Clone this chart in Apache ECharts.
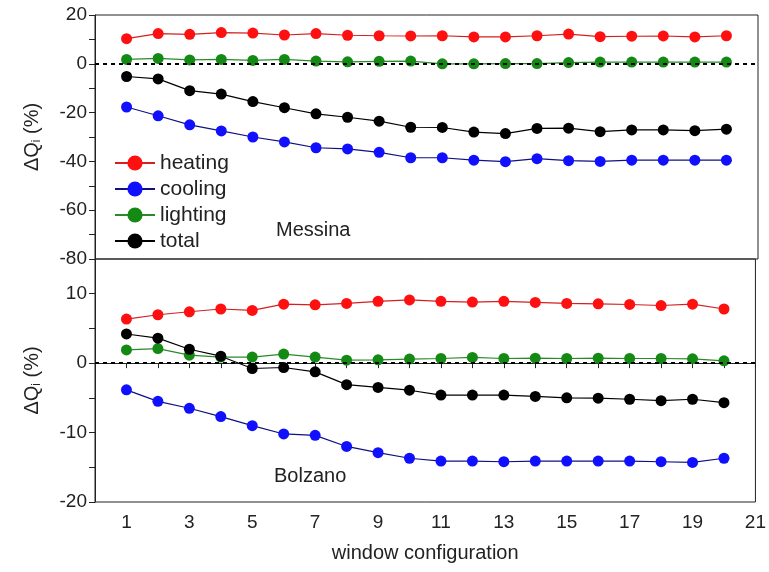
<!DOCTYPE html>
<html>
<head>
<meta charset="utf-8">
<script src="https://cdn.jsdelivr.net/npm/echarts@6/dist/echarts.min.js"></script>
<style>
  html, body { margin: 0; padding: 0; background: #fff; }
  #chart { width: 769px; height: 572px; }
</style>
</head>
<body>
<div id="chart"></div>
<script>
// window configurations 1..20
var configs = [1, 2, 3, 4, 5, 6, 7, 8, 9, 10, 11, 12, 13, 14, 15, 16, 17, 18, 19, 20];

// Messina (top panel)
var messinaHeating = [10.3, 12.4, 12.1, 12.8, 12.6, 11.8, 12.4, 11.7, 11.5, 11.4, 11.5, 11.0, 11.0, 11.5, 12.2, 11.1, 11.3, 11.4, 11.0, 11.5];
var messinaCooling = [-17.7, -21.3, -25.0, -27.5, -30.0, -32.0, -34.4, -34.9, -36.3, -38.5, -38.5, -39.5, -40.1, -38.9, -39.7, -40.0, -39.5, -39.5, -39.5, -39.5];
var messinaLighting = [1.8, 2.2, 1.6, 1.8, 1.4, 1.8, 1.1, 0.8, 1.0, 1.1, 0.0, 0.0, 0.1, 0.1, 0.5, 0.7, 0.7, 0.7, 0.7, 0.7];
var messinaTotal = [-5.2, -6.2, -11.0, -12.4, -15.5, -18.0, -20.5, -21.9, -23.5, -26.0, -26.1, -28.0, -28.6, -26.5, -26.4, -27.8, -27.1, -27.1, -27.4, -26.8];

// Bolzano (bottom panel)
var bolzanoHeating = [6.35, 6.97, 7.4, 7.8, 7.6, 8.5, 8.4, 8.6, 8.9, 9.1, 8.9, 8.8, 8.9, 8.75, 8.6, 8.55, 8.45, 8.3, 8.5, 7.8];
var bolzanoCooling = [-3.85, -5.5, -6.5, -7.7, -9.0, -10.2, -10.4, -12.0, -12.9, -13.7, -14.1, -14.1, -14.2, -14.1, -14.1, -14.1, -14.1, -14.2, -14.3, -13.7];
var bolzanoLighting = [1.9, 2.1, 1.15, 0.87, 0.87, 1.3, 0.87, 0.43, 0.48, 0.58, 0.67, 0.82, 0.67, 0.72, 0.67, 0.72, 0.67, 0.67, 0.62, 0.34];
var bolzanoTotal = [4.2, 3.6, 2.0, 1.0, -0.77, -0.63, -1.25, -3.1, -3.5, -3.9, -4.6, -4.6, -4.6, -4.8, -5.0, -5.05, -5.2, -5.4, -5.2, -5.7];

var names = ['heating', 'cooling', 'lighting', 'total'];
var markerColors = ['#ff1010', '#1010ff', '#148a14', '#000000'];
var lineColors = ['#d42020', '#101080', '#2a8a2a', '#000000'];

var font = 'Liberation Sans, Arial, sans-serif';

function pairs(ys) {
    return configs.map(function (x, i) { return [x, ys[i]]; });
}

function makeSeries(idx, ys, axisIdx) {
    return {
        name: names[idx],
        type: 'line',
        xAxisIndex: axisIdx,
        yAxisIndex: axisIdx,
        data: pairs(ys),
        symbol: 'circle',
        symbolSize: 11,
        itemStyle: { color: markerColors[idx] },
        lineStyle: { color: lineColors[idx], width: 1.2 },
        z: 3
    };
}

var zeroLine = function () {
    return {
        silent: true,
        symbol: 'none',
        label: { show: false },
        lineStyle: { color: '#000', type: [4, 4], width: 2 },
        data: [{ yAxis: 0 }]
    };
};

var chart = echarts.init(document.getElementById('chart'));

var series = [
    makeSeries(0, messinaHeating, 0),
    makeSeries(1, messinaCooling, 0),
    makeSeries(2, messinaLighting, 0),
    makeSeries(3, messinaTotal, 0),
    makeSeries(0, bolzanoHeating, 1),
    makeSeries(1, bolzanoCooling, 1),
    makeSeries(2, bolzanoLighting, 1),
    makeSeries(3, bolzanoTotal, 1)
];
series[3].markLine = zeroLine();
series[7].markLine = zeroLine();

var yName = 'ΔQ{sub|i} (%)';
var yNameStyle = {
    fontFamily: font, fontSize: 20, color: '#222',
    rich: { sub: { fontFamily: font, fontSize: 12, color: '#222', padding: [10, 0, 0, 0] } }
};

var option = {
    animation: false,
    backgroundColor: '#fff',
    textStyle: { fontFamily: font },
    grid: [
        { left: 95, right: 11, top: 15, height: 244, show: true, borderColor: '#222', borderWidth: 1 },
        { left: 95, right: 11, top: 259, height: 243, show: true, borderColor: '#222', borderWidth: 1 }
    ],
    legend: {
        data: ['heating', 'cooling', 'lighting', 'total'],
        orient: 'vertical',
        left: 109,
        top: 146,
        itemWidth: 40,
        itemHeight: 19,
        itemGap: 2,
        textStyle: { fontFamily: font, fontSize: 21, color: '#222', lineHeight: 24 }
    },
    xAxis: [
        {
            gridIndex: 0, type: 'value', min: 0, max: 21, interval: 1,
            axisLine: { show: false }, axisTick: { show: false },
            axisLabel: { show: false }, splitLine: { show: false }
        },
        {
            gridIndex: 1, type: 'value', min: 0, max: 21, interval: 1,
            name: 'window configuration', nameLocation: 'middle', nameGap: 41,
            nameTextStyle: { fontFamily: font, fontSize: 20, color: '#222' },
            axisLine: { show: true, lineStyle: { color: '#222' } },
            axisTick: { show: true, length: 5, lineStyle: { color: '#222' } },
            axisLabel: {
                fontFamily: font, fontSize: 19, color: '#222', margin: 11,
                formatter: function (v) { return v % 2 === 1 ? String(v) : ''; }
            },
            splitLine: { show: false }
        }
    ],
    yAxis: [
        {
            gridIndex: 0, type: 'value', min: -80, max: 20, interval: 10,
            name: yName, nameLocation: 'middle', nameGap: 52, nameRotate: 90,
            nameTextStyle: yNameStyle,
            axisLine: { show: true, lineStyle: { color: '#222' } },
            axisTick: { show: true, length: 6, lineStyle: { color: '#222' } },
            axisLabel: {
                fontFamily: font, fontSize: 19, color: '#222', margin: 8,
                formatter: function (v) { return v % 20 === 0 ? String(v) : ''; }
            },
            splitLine: { show: false }
        },
        {
            gridIndex: 1, type: 'value', min: -20, max: 15, interval: 5,
            name: yName, nameLocation: 'middle', nameGap: 52, nameRotate: 90,
            nameTextStyle: yNameStyle,
            axisLine: { show: true, lineStyle: { color: '#222' } },
            axisTick: { show: true, length: 6, lineStyle: { color: '#222' } },
            axisLabel: {
                fontFamily: font, fontSize: 19, color: '#222', margin: 8,
                showMaxLabel: false,
                formatter: function (v) { return v % 10 === 0 ? String(v) : ''; }
            },
            splitLine: { show: false }
        }
    ],
    graphic: [
        { type: 'text', left: 276, top: 220, style: { text: 'Messina', font: '20px Liberation Sans', fill: '#222' } },
        { type: 'text', left: 274, top: 466, style: { text: 'Bolzano', font: '20px Liberation Sans', fill: '#222' } }
    ],
    series: series
};

chart.setOption(option);
</script>
</body>
</html>
